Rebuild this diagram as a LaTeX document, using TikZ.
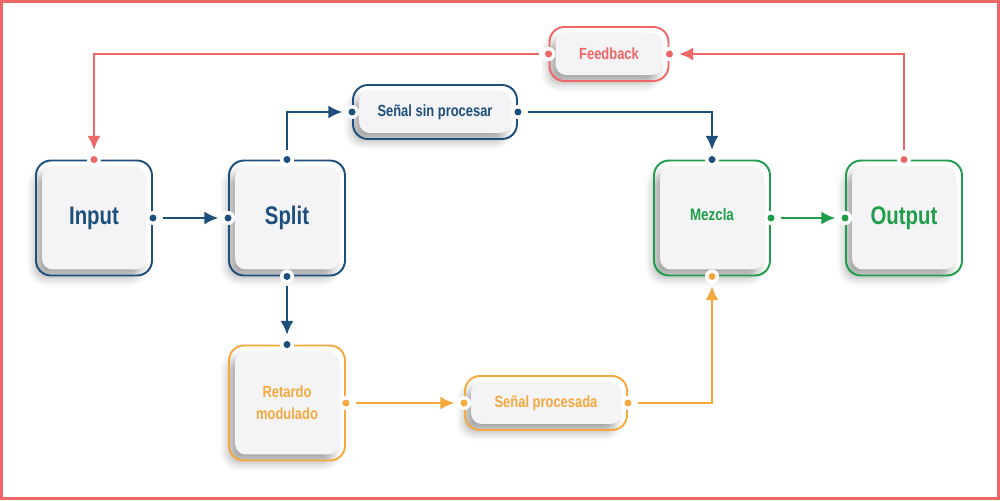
\documentclass[tikz,border=0pt]{standalone}
\usepackage{fontspec}
\setmainfont{Liberation Sans}[FakeStretch=0.8]
\usetikzlibrary{arrows.meta,calc,backgrounds,shadows.blur}

\definecolor{fbred}{HTML}{EE6666}
\definecolor{sigblue}{HTML}{1D4F7C}
\definecolor{mixgreen}{HTML}{1F9D48}
\definecolor{fxorange}{HTML}{F5A83E}
\definecolor{panel}{HTML}{F4F4F6}

\tikzset{
  block/.style={draw=#1, text=#1, line width=1.1pt, rounded corners=8.5pt,
    minimum width=2.32cm, minimum height=2.3cm, align=center,
    font=\bfseries\fontsize{14.5}{17}\selectfont},
  tag/.style={block=#1, minimum width=3.28cm, minimum height=1.08cm,
    font=\bfseries\fontsize{9.2}{12.5}\selectfont},
  link/.style={draw=#1, line width=1.4pt, ->, >={Latex[length=8pt,width=7.5pt]},
    shorten <=5.5pt, shorten >=5.5pt},
}

\begin{document}
\begin{tikzpicture}[x=0.02cm, y=-0.02cm]
\useasboundingbox (0,0) rectangle (1000,500);
\draw[fbred, line width=1.7pt] (1.5,1.5) rectangle (998.5,498.5);

% blocks
\node[block=sigblue] (inp) at (94,218) {Input};
\node[block=sigblue] (spl) at (287,218) {Split};
\node[tag=sigblue] (dry) at (435,112) {Señal sin procesar};
\node[tag=fbred, minimum width=2.38cm] (fb) at (609,54) {Feedback};
\node[block=mixgreen, font=\bfseries\fontsize{9.5}{12}\selectfont] (mix) at (712,218) {\raisebox{4.5pt}{Mezcla}};
\node[block=mixgreen] (out) at (904,218) {Output};
\node[block=fxorange, font=\bfseries\fontsize{9.2}{12.5}\selectfont] (dly) at (287,403) {Retardo\\modulado};
\node[tag=fxorange, minimum width=3.24cm] (wet) at (546,403) {Señal procesada};

% inner panels
\begin{scope}[on background layer]
\foreach \n in {inp,spl,dry,fb,mix,out,dly,wet}
    \fill[panel, rounded corners=6pt,
      blur shadow={shadow xshift=-3.5pt, shadow yshift=-4.5pt, shadow blur radius=5pt, shadow opacity=35}]
      ($(\n.south west)+(4pt,4pt)$) rectangle ($(\n.north east)+(-4pt,-4pt)$);
\end{scope}

% ports
\foreach \p/\c in {inp.north/fbred, inp.east/sigblue, spl.west/sigblue, spl.north/sigblue,
    spl.south/sigblue, dry.west/sigblue, dry.east/sigblue, mix.north/sigblue,
    mix.south/fxorange, mix.east/mixgreen, out.west/mixgreen, out.north/fbred,
    fb.east/fbred, fb.west/fbred, dly.north/sigblue, dly.east/fxorange,
    wet.west/fxorange, wet.east/fxorange}
{
    \fill[white] (\p) circle (4pt);
    \fill[\c] (\p) circle (2pt);
}

% connectors
\draw[link=sigblue] (inp.east) -- (spl.west);
\draw[link=sigblue] (spl.north) |- (dry.west);
\draw[link=sigblue] (dry.east) -| (mix.north);
\draw[link=sigblue] (spl.south) -- (dly.north);
\draw[link=fxorange] (dly.east) -- (wet.west);
\draw[link=fxorange] (wet.east) -| (mix.south);
\draw[link=mixgreen] (mix.east) -- (out.west);
\draw[link=fbred] (out.north) |- (fb.east);
\draw[link=fbred] (fb.west) -| (inp.north);
\end{tikzpicture}
\end{document}
